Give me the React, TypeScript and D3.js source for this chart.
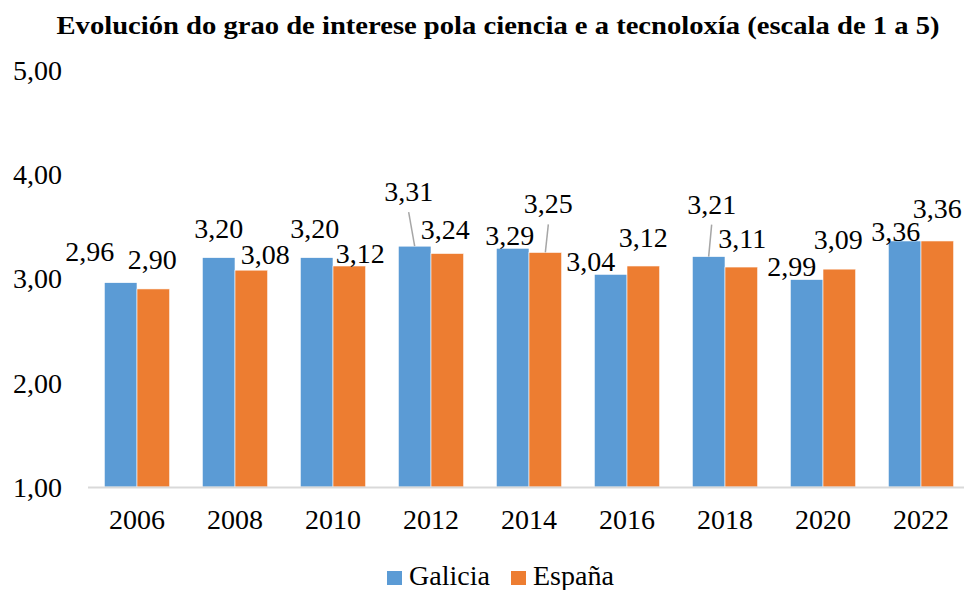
import React, { useEffect, useRef } from 'react';
import * as d3 from 'd3';

const years = ['2006', '2008', '2010', '2012', '2014', '2016', '2018', '2020', '2022'];
const seriesNames = ['Galicia', 'España'];
const galicia = [2.96, 3.2, 3.2, 3.31, 3.29, 3.04, 3.21, 2.99, 3.36];
const espana = [2.9, 3.08, 3.12, 3.24, 3.25, 3.12, 3.11, 3.09, 3.36];
const yTicks = [1, 2, 3, 4, 5];

// label nudges (dx, dy from bar top) as placed by hand in the original
const galiciaLabelShift = [[-31, -22], [0, -20], [-2, -20], [-6, -45], [-3, -3], [-20, -3], [3, -43], [-15, -4], [-9, 0]];
const espanaLabelShift = [[-1, -20], [14, -6], [11, -3], [-2, -14], [3, -39], [0, -19], [1, -19], [-1, -20], [0, -23]];

const colors = ['#5b9bd5', '#ed7d31'];
const fmt = (v: number) => v.toFixed(2).replace('.', ',');

const App = () => {
  const ref = useRef<SVGSVGElement>(null);

  useEffect(() => {
    if (!ref.current) return;
    const svg = d3.select(ref.current);
    svg.selectAll('*').remove();

    const W = 964;
    const H = 590;
    const font = '"Liberation Serif", "Times New Roman", serif';

    const x0 = d3.scaleBand().domain(years).range([88, 88 + 98 * years.length]).paddingInner(0);
    const x1 = d3.scaleBand().domain(seriesNames).range([0, x0.bandwidth()]).paddingOuter(0.5);
    const y = d3.scaleLinear().domain([1, 5]).range([487, 70]);

    // title
    svg.append('text')
      .attr('x', 498)
      .attr('y', 34)
      .attr('text-anchor', 'middle')
      .attr('font-family', font)
      .attr('font-weight', 'bold')
      .attr('font-size', 26)
      .attr('textLength', 883)
      .attr('lengthAdjust', 'spacingAndGlyphs')
      .text('Evolución do grao de interese pola ciencia e a tecnoloxía (escala de 1 a 5)');

    // y tick labels
    svg.append('g')
      .selectAll('text')
      .data(yTicks)
      .enter().append('text')
      .attr('x', 62)
      .attr('y', d => y(d))
      .attr('dy', '0.35em')
      .attr('text-anchor', 'end')
      .attr('font-family', font)
      .attr('font-size', 28)
      .attr('fill', '#000')
      .text(d => fmt(d));

    const data = [galicia, espana];
    const shifts = [galiciaLabelShift, espanaLabelShift];

    // bars
    data.forEach((vals, si) => {
      svg.append('g')
        .selectAll('rect')
        .data(vals)
        .enter().append('rect')
        .attr('x', (d, i) => (x0(years[i]) as number) + (x1(seriesNames[si]) as number))
        .attr('width', x1.bandwidth())
        .attr('y', d => y(d))
        .attr('height', d => y(1) - y(d))
        .attr('fill', colors[si])
        .attr('stroke', '#ffffff')
        .attr('stroke-width', 0.6);
    });

    // axis line
    svg.append('line')
      .attr('x1', 88)
      .attr('x2', W)
      .attr('y1', y(1) + 0.5)
      .attr('y2', y(1) + 0.5)
      .attr('stroke', '#d9d9d9')
      .attr('stroke-width', 2);

    // x tick labels
    svg.append('g')
      .selectAll('text')
      .data(years)
      .enter().append('text')
      .attr('x', d => (x0(d) as number) + x0.bandwidth() / 2)
      .attr('y', 529)
      .attr('text-anchor', 'middle')
      .attr('font-family', font)
      .attr('font-size', 28)
      .text(d => d);

    // data labels (+ leader lines where label is far from bar)
    data.forEach((vals, si) => {
      vals.forEach((v, i) => {
        const cx = (x0(years[i]) as number) + (x1(seriesNames[si]) as number) + x1.bandwidth() / 2;
        const top = y(v);
        const [dx, dy] = shifts[si][i];
        const lx = cx + dx;
        const ly = top + dy;
        if (dy < -30) {
          svg.append('line')
            .attr('x1', lx)
            .attr('y1', ly + 11)
            .attr('x2', cx)
            .attr('y2', top)
            .attr('stroke', '#a6a6a6')
            .attr('stroke-width', 1.5);
        }
        svg.append('text')
          .attr('x', lx)
          .attr('y', ly)
          .attr('text-anchor', 'middle')
          .attr('font-family', font)
          .attr('font-size', 28)
          .text(fmt(v));
      });
    });

    // legend
    const legendItems = [
      { name: seriesNames[0], x: 387 },
      { name: seriesNames[1], x: 511 },
    ];
    const lg = svg.append('g');
    legendItems.forEach((it, i) => {
      lg.append('rect')
        .attr('x', it.x)
        .attr('y', 571)
        .attr('width', 15)
        .attr('height', 14)
        .attr('fill', colors[i]);
      lg.append('text')
        .attr('x', it.x + 22)
        .attr('y', 585)
        .attr('font-family', font)
        .attr('font-size', 28)
        .text(it.name);
    });

    svg.attr('width', W).attr('height', H);
  }, []);

  return (
    <svg
      ref={ref}
      width={964}
      height={590}
      style={{ position: 'absolute', left: 0, top: 0, background: '#fff' }}
    />
  );
};

export default App;
